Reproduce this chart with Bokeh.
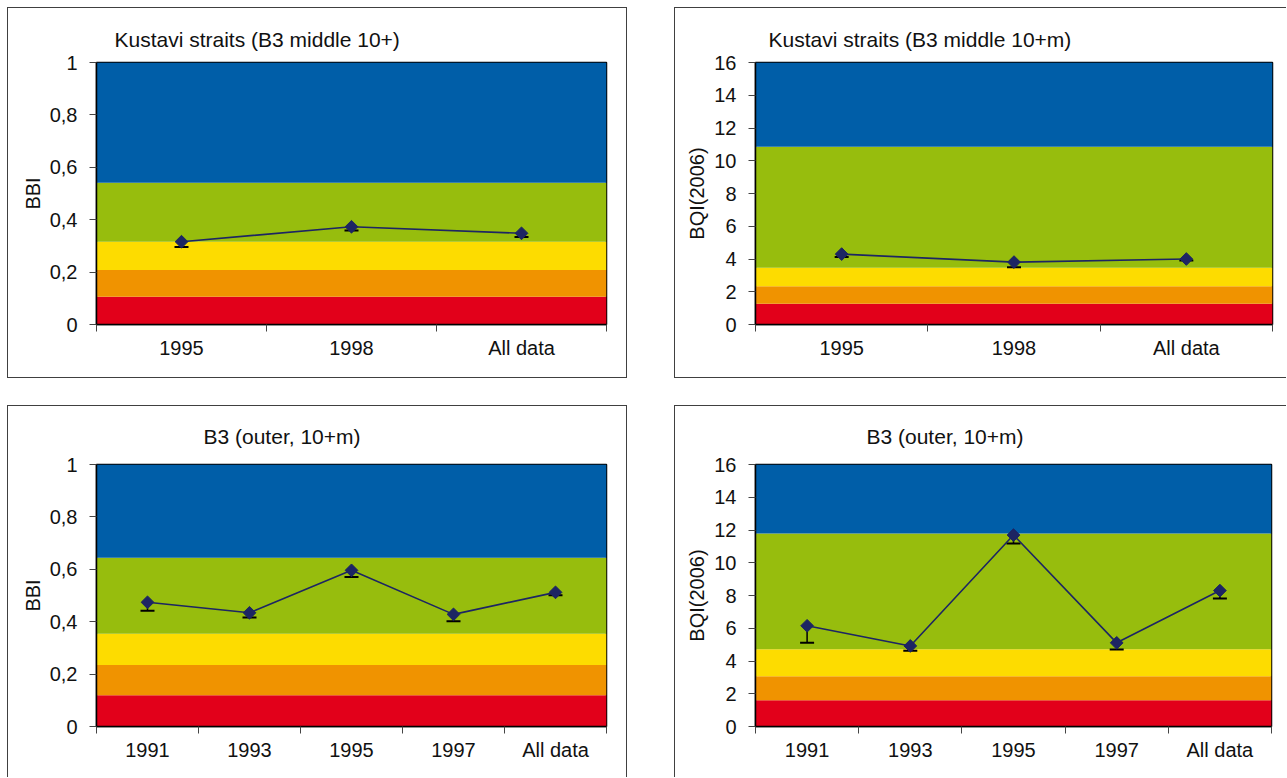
import math
from bokeh.plotting import figure
from bokeh.layouts import column, row
from bokeh.models import (Range1d, FixedTicker, CustomJSTickFormatter, ColumnDataSource)
from bokeh.embed import file_html
from bokeh.resources import INLINE

# ---------------- data ----------------
cats_a = ["1995", "1998", "All data"]
bbi_a = [0.316, 0.373, 0.348]
bbi_a_low = [0.296, 0.359, 0.334]
bqi_a = [4.30, 3.81, 4.00]
bqi_a_low = [4.12, 3.49, 3.91]

cats_b = ["1991", "1993", "1995", "1997", "All data"]
bbi_b = [0.474, 0.434, 0.596, 0.428, 0.512]
bbi_b_low = [0.442, 0.416, 0.571, 0.402, 0.501]
bqi_b = [6.15, 4.92, 11.69, 5.11, 8.30]
bqi_b_low = [5.11, 4.62, 11.18, 4.70, 7.81]

# class boundaries (bad -> high)
bounds_bbi_a = [0, 0.106, 0.208, 0.316, 0.541, 1.0]
bounds_bqi_a = [0, 1.26, 2.34, 3.47, 10.86, 16.0]
bounds_bbi_b = [0, 0.119, 0.235, 0.354, 0.644, 1.0]
bounds_bqi_b = [0, 1.61, 3.07, 4.72, 11.79, 16.0]

band_colors = ["#E2001A", "#F09300", "#FDDC00", "#97BD0D", "#005EA8"]

titles = ["Kustavi straits (B3 middle 10+)", "Kustavi straits (B3 middle 10+m)",
          "B3 (outer, 10+m)", "B3 (outer, 10+m)"]

FONT = "Liberation Sans"
NAVY = "#1d2563"


def make(title, cats, vals, lows, bounds, ymax, ystep, ylabel, width, height,
         bl, br, bt, bb, toff, tstand, border):
    n = len(cats)
    p = figure(width=width, height=height, output_backend="svg", toolbar_location=None,
               x_range=Range1d(0, n), y_range=Range1d(0, ymax),
               min_border_left=bl, min_border_right=br, min_border_top=bt,
               min_border_bottom=bb, title=title)
    p.styles = border
    p.title.text_font = FONT
    p.title.text_font_size = "21px"
    p.title.text_font_style = "normal"
    p.title.align = "left"
    p.title.offset = toff
    p.title.standoff = tstand
    p.title.text_color = "#111111"

    p.quad(left=[0] * 5, right=[n] * 5, bottom=bounds[:-1], top=bounds[1:],
           fill_color=band_colors, line_color=None)

    xs = [i + 0.5 for i in range(n)]
    src = ColumnDataSource(dict(x=xs, v=vals, lo=lows))
    p.segment(x0="x", y0="lo", x1="x", y1="v", source=src, line_color="black", line_width=1.5)
    p.scatter(x="x", y="lo", source=src, marker="dash", size=14, line_color="black",
              line_width=2)
    p.line(x="x", y="v", source=src, line_color=NAVY, line_width=1.6)
    p.scatter(x="x", y="v", source=src, marker="square", angle=math.pi / 4, size=9,
              fill_color=NAVY, line_color=NAVY)

    p.grid.visible = False
    p.outline_line_color = "black"
    p.outline_line_width = 1.5
    p.outline_line_alpha = 1

    xa = p.xaxis[0]
    xa.ticker = FixedTicker(ticks=xs, minor_ticks=list(range(n + 1)))
    xa.major_label_overrides = {x: c for x, c in zip(xs, cats)}
    xa.major_tick_out = 0
    xa.major_tick_in = 0
    xa.minor_tick_out = 7
    xa.minor_tick_in = 0
    xa.minor_tick_line_color = "#444444"
    xa.axis_line_color = "black"
    xa.axis_line_width = 1.5
    xa.major_label_text_font = FONT
    xa.major_label_text_font_size = "20px"
    xa.major_label_text_color = "#111111"
    xa.major_label_standoff = 5

    ya = p.yaxis[0]
    nt = int(round(ymax / ystep))
    ya.ticker = FixedTicker(ticks=[round(i * ystep, 6) for i in range(nt + 1)], minor_ticks=[])
    ya.formatter = CustomJSTickFormatter(
        code="return (Math.round(tick*10)/10).toString().replace('.', ',');")
    ya.major_tick_out = 7
    ya.major_tick_in = 0
    ya.major_tick_line_color = "#444444"
    ya.axis_line_color = "black"
    ya.axis_line_width = 1.5
    ya.major_label_text_font = FONT
    ya.major_label_text_font_size = "20px"
    ya.major_label_text_color = "#111111"
    ya.major_label_standoff = 12
    ya.axis_label = ylabel
    ya.axis_label_text_font = FONT
    ya.axis_label_text_font_size = "20px"
    ya.axis_label_text_font_style = "normal"
    ya.axis_label_text_color = "#111111"
    ya.axis_label_standoff = 3
    return p


B = "1px solid #404040"
p1 = make(titles[0], cats_a, bbi_a, bbi_a_low, bounds_bbi_a, 1.0, 0.2, "BBI",
          620, 371, 88, 22, 54, 55, 18, 24,
          {"border": B, "box-sizing": "border-box"})
p2 = make(titles[1], cats_a, bqi_a, bqi_a_low, bounds_bqi_a, 16, 2, "BQI(2006)",
          612, 371, 80, 15, 54, 55, 13, 24,
          {"border-left": B, "border-top": B, "border-bottom": B, "box-sizing": "border-box"})
p3 = make(titles[2], cats_b, bbi_b, bbi_b_low, bounds_bbi_b, 1.0, 0.2, "BBI",
          620, 372, 88, 22, 58, 52, 107, 33,
          {"border-left": B, "border-top": B, "border-right": B, "box-sizing": "border-box"})
p4 = make(titles[3], cats_b, bqi_b, bqi_b_low, bounds_bqi_b, 16, 2, "BQI(2006)",
          612, 372, 80, 16, 58, 52, 111, 33,
          {"border-left": B, "border-top": B, "box-sizing": "border-box"})

layout = column(row(p1, p2, spacing=47), row(p3, p4, spacing=47), spacing=27,
                margin=(7, 0, 0, 7))

open("out.html", "w").write(file_html(layout, INLINE))
